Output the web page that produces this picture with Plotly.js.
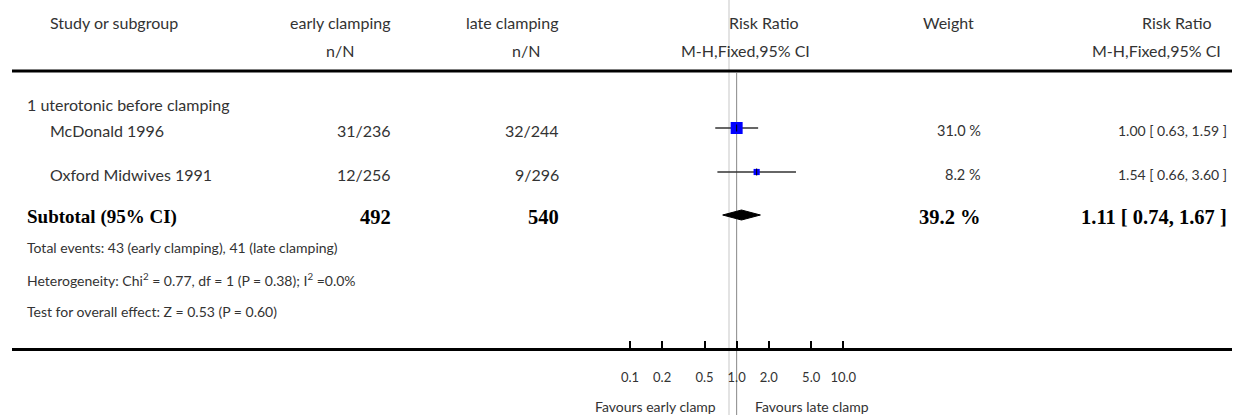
<!DOCTYPE html>
<html>
<head>
<meta charset="utf-8">
<script src="https://cdn.plot.ly/plotly-3.0.1.min.js"></script>
<style>html,body{margin:0;padding:0;background:#fff;}#chart{width:1235px;height:415px;}</style>
</head>
<body>
<div id="chart"></div>
<script>
// ---- data ----
const groupLabel = "1 uterotonic before clamping";
const studies = ["McDonald 1996", "Oxford Midwives 1991"];
const earlyEvents = [31, 12];
const earlyTotal = [236, 256];
const lateEvents = [32, 9];
const lateTotal = [244, 296];
const weights = [31.0, 8.2];
const rr = [1.00, 1.54];
const rrLow = [0.63, 0.66];
const rrHigh = [1.59, 3.60];
const subtotalRR = 1.11;
const subtotalLow = 0.74;
const subtotalHigh = 1.67;
const heterogeneity = {chi2: "0.77", df: "1", p: "0.38", i2: "0.0%"};
const overallEffect = {z: "0.53", p: "0.60"};
const tickVals = [0.1, 0.2, 0.5, 1, 2, 5, 10];
const tickText = ["0.1", "0.2", "0.5", "1.0", "2.0", "5.0", "10.0"];
const leftLabel = "Favours early clamp";
const rightLabel = "Favours late clamp";

// ---- layout helpers ----
const W = 1235, H = 415;
const px = v => v / W;
const FONT = "Lato, 'Open Sans', sans-serif";
const SERIF = "'Liberation Serif', 'DejaVu Serif', serif";
const TXT = "#333";
const FS = 16;

// log axis calibrated so that 0.1 sits at x=630 and 10 at x=843
const axLeftPx = 12, axRightPx = 1232;
const p01 = 630, p10 = 843.3, perDec = (p10 - p01) / 2;
const rangeLo = -1 - (p01 - axLeftPx) / perDec;
const rangeHi = -1 + (axRightPx - p01) / perDec;

// rows (vertical positions in pixel rows)
const rowHeader1 = 22, rowHeader2 = 50, rowLine = 71;
const rowGroup = 104;
const rowStudies = [128, 172];
const rowSub = 215;
const rowNotes = [247, 279, 311];
const rowAxis = 349;
const textShift = 2;

const anns = [];
function txt(x, y, text, anchor, opts) {
  opts = opts || {};
  anns.push({
    xref: 'paper', yref: 'y', x: px(x), y: y, text: text,
    xanchor: anchor, yanchor: 'middle', showarrow: false,
    font: {family: opts.family || FONT, size: opts.size || FS, color: opts.color || TXT}
  });
}
// headers
txt(48, rowHeader1, "Study or subgroup", 'left');
txt(340, rowHeader1, "early clamping", 'center');
txt(512, rowHeader1, "late clamping", 'center');
txt(764, rowHeader1, "Risk Ratio", 'center');
txt(948, rowHeader1, "Weight", 'center');
txt(1177, rowHeader1, "Risk Ratio", 'center');
txt(340, rowHeader2, "n/N", 'center');
txt(526, rowHeader2, "n/N", 'center');
txt(745, rowHeader2, "M-H,Fixed,95% CI", 'center');
txt(1156, rowHeader2, "M-H,Fixed,95% CI", 'center');

txt(25, rowGroup, groupLabel, 'left');
const f2 = v => v.toFixed(2);
studies.forEach((s, i) => {
  const y = rowStudies[i] + textShift;
  txt(48, y, s, 'left');
  txt(393, y, earlyEvents[i] + "/" + earlyTotal[i], 'right');
  txt(561, y, lateEvents[i] + "/" + lateTotal[i], 'right');
  txt(983, y, weights[i].toFixed(1) + " %", 'right', {size: 14.5});
  txt(1229, y, f2(rr[i]) + " [ " + f2(rrLow[i]) + ", " + f2(rrHigh[i]) + " ]", 'right', {size: 14});
});
const sum = a => a.reduce((s, v) => s + v, 0);
const BL = {family: SERIF, size: 19, color: '#000'};
const BN = {family: SERIF, size: 20.5, color: '#000'};
txt(25, rowSub + textShift, "<b>Subtotal (95% CI)</b>", 'left', BL);
txt(393, rowSub + textShift, "<b>" + sum(earlyTotal) + "</b>", 'right', BN);
txt(561, rowSub + textShift, "<b>" + sum(lateTotal) + "</b>", 'right', BN);
txt(983, rowSub + textShift, "<b>" + sum(weights).toFixed(1) + " %</b>", 'right', BN);
txt(1229, rowSub + textShift, "<b>" + f2(subtotalRR) + " [ " + f2(subtotalLow) + ", " + f2(subtotalHigh) + " ]</b>", 'right', BN);

txt(25, rowNotes[0], "Total events: " + sum(earlyEvents) + " (early clamping), " + sum(lateEvents) + " (late clamping)", 'left', {size: 14});
txt(25, rowNotes[1], "Heterogeneity: Chi<sup>2</sup> = " + heterogeneity.chi2 + ", df = " + heterogeneity.df + " (P = " + heterogeneity.p + "); I<sup>2</sup> =" + heterogeneity.i2, 'left', {size: 14});
txt(25, rowNotes[2], "Test for overall effect: Z = " + overallEffect.z + " (P = " + overallEffect.p + ")", 'left', {size: 14});

txt(718, 406, leftLabel, 'right', {size: 14});
txt(753, 406, rightLabel, 'left', {size: 14});

// ---- traces ----
const traces = [];
studies.forEach((s, i) => {
  traces.push({
    type: 'scatter', mode: 'lines', x: [rrLow[i], rrHigh[i]], y: [rowStudies[i], rowStudies[i]],
    line: {color: '#333', width: 1.5}, hoverinfo: 'skip', showlegend: false
  });
});
traces.push({
  type: 'scatter', mode: 'markers', x: rr, y: rowStudies,
  marker: {symbol: 'square', color: '#0000ff', opacity: 1,
           size: weights.map(w => 2.15 * Math.sqrt(w)), line: {width: 0}},
  showlegend: false
});
traces.push({
  type: 'scatter', mode: 'markers', x: rr, y: rowStudies,
  marker: {symbol: 'line-ns-open', color: '#000', opacity: 1, size: 5, line: {width: 1, color: '#000'}},
  showlegend: false
});
const dh = 5;
traces.push({
  type: 'scatter', mode: 'lines', fill: 'toself', fillcolor: '#000',
  x: [subtotalLow, subtotalRR, subtotalHigh, subtotalRR, subtotalLow],
  y: [rowSub, rowSub - dh, rowSub, rowSub + dh, rowSub],
  line: {color: '#000', width: 1}, showlegend: false
});

const shapes = [
  {type: 'line', xref: 'paper', yref: 'y', x0: px(729), x1: px(729), y0: 0, y1: H, line: {color: '#e3e3e3', width: 2}, layer: 'below'},
  {type: 'line', xref: 'x', yref: 'y', x0: 1, x1: 1, y0: rowLine + 2, y1: H, line: {color: '#888', width: 1}, layer: 'below'},
  {type: 'line', xref: 'paper', yref: 'y', x0: px(axLeftPx), x1: px(axRightPx), y0: rowLine, y1: rowLine, line: {color: '#000', width: 3}}
];

const layout = {
  width: W, height: H, margin: {l: 0, r: 0, t: 0, b: 0},
  paper_bgcolor: '#fff', plot_bgcolor: 'rgba(0,0,0,0)',
  showlegend: false,
  xaxis: {
    type: 'log', range: [rangeLo, rangeHi], domain: [px(axLeftPx), px(axRightPx)],
    anchor: 'free', position: 1 - rowAxis / H,
    showgrid: false, zeroline: false, showline: true, linecolor: '#000', linewidth: 3,
    ticks: 'inside', ticklen: 7, tickwidth: 2, tickcolor: '#000',
    tickvals: tickVals, ticktext: tickText, ticklabelstandoff: 15,
    tickfont: {family: FONT, size: 13, color: TXT}, fixedrange: true
  },
  yaxis: {range: [H, 0], domain: [0, 1], visible: false, fixedrange: true},
  shapes: shapes, annotations: anns
};
Plotly.newPlot('chart', traces, layout, {staticPlot: true});
</script>
</body>
</html>
